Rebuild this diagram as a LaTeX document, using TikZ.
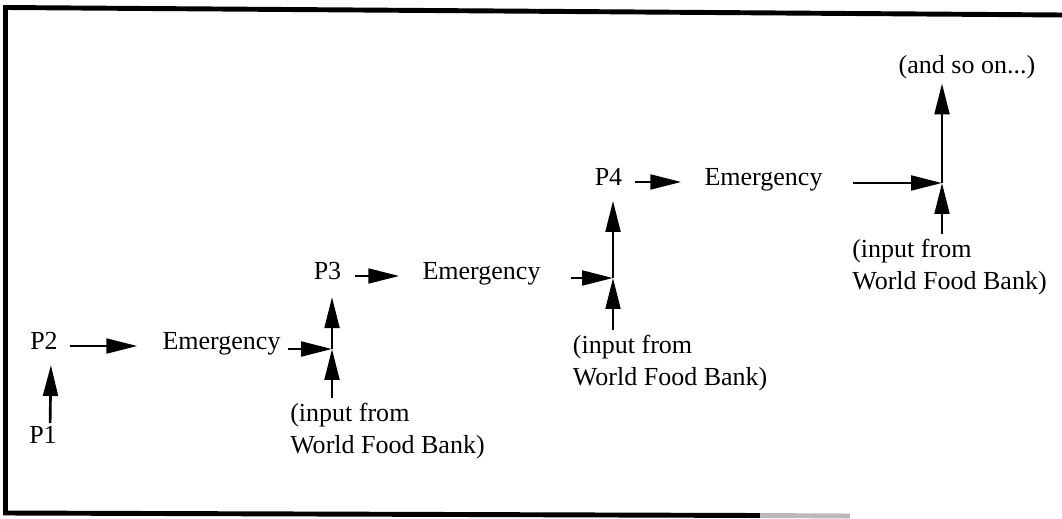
\documentclass[tikz,border=0pt]{standalone}
\usepackage{fontspec}
\setmainfont{Liberation Serif}
\usetikzlibrary{arrows.meta}
\tikzset{
  lbl/.style={inner sep=3.33pt, text height=0.7em, text depth=0.2em},
  inlbl/.style={align=left, anchor=north west, inner sep=3.33pt},
  arr/.style={line width=1.9pt, -{Triangle[length=22pt,width=10.5pt]}},
}
\begin{document}
\begin{tikzpicture}[x=0.025cm, y=-0.025cm, font=\fontsize{18.5}{22.7}\selectfont]
        \useasboundingbox (0,0) rectangle (1062,518);
        % frame, open on the right
        \draw[line width=3.5pt] (1062,15) -- (5.5,7.5) -- (5.5,513) -- (760,515.5);
        \draw[line width=3.5pt, gray!55] (760,515.5) -- (850,516);

        \node[lbl] (p1) at (43,440) {P1};
        \node[lbl] (p2) at (44,346) {P2};
        \node[lbl] (em1) at (221.5,346) {Emergency};
        \coordinate (j1) at (332,349);
        \node[inlbl] (in1) at (285.3,398) {(input from\\World Food Bank)};

        \node[lbl] (p3) at (327.5,276) {P3};
        \node[lbl] (em2) at (481.5,276) {Emergency};
        \coordinate (j2) at (613,278);
        \node[inlbl] (in2) at (568,330) {(input from\\World Food Bank)};

        \node[lbl] (p4) at (608.5,182) {P4};
        \node[lbl] (em3) at (763.5,182) {Emergency};
        \coordinate (j3) at (942,183);
        \node[inlbl] (in3) at (847.3,234) {(input from\\World Food Bank)};
        \node[lbl] (more) at (967,70) {(and so on...)};

        \draw[arr, shorten <=4pt, shorten >=5.5pt] ([xshift=5pt]p1.north) -- ([xshift=5pt]p2.south);
        \draw[arr, shorten <=5.3pt, shorten >=14.4pt] (p2) -- (em1);
        \draw[arr, shorten <=2pt] (em1.east |- j1) -- (j1);
        \draw[arr, shorten >=7pt] (j1) -- (p3.south -| j1);
        \draw[arr] (in1.north -| j1) -- (j1);

        \draw[arr, shorten <=6.4pt, shorten >=13pt] (p3) -- (em2);
        \draw[arr, shorten <=17.9pt] (em2.east |- j2) -- (j2);
        \draw[arr, shorten >=5.4pt] (j2) -- (p4.south -| j2);
        \draw[arr] (in2.north -| j2) -- (j2);

        \draw[arr, shorten <=5.7pt, shorten >=13pt] (p4) -- (em3);
        \draw[arr, shorten <=17.9pt] (em3.east |- j3) -- (j3);
        \draw[arr, shorten >=1.5pt] (j3) -- (more.south -| j3);
        \draw[arr] (in3.north -| j3) -- (j3);
    \end{tikzpicture}
\end{document}
